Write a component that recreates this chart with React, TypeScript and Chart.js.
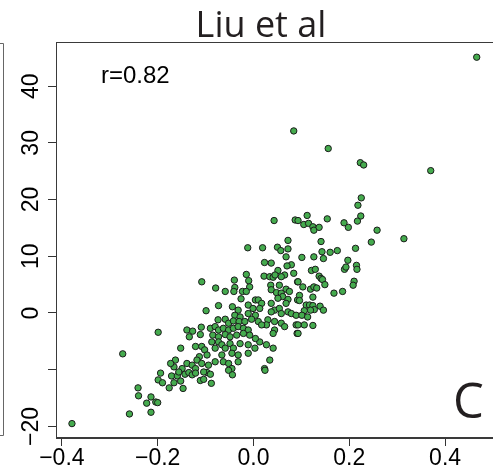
import React, { useEffect, useRef } from "react";
import { Chart, registerables } from "chart.js";

Chart.register(...registerables);

const titleText = "Liu et al";
const corrLabel = "r=0.82";
const panelLetter = "C";

const xTickValues = [-0.4, -0.2, 0, 0.2, 0.4];
const xTickLabels = ["\u22120.4", "\u22120.2", "0.0", "0.2", "0.4"];
const yTickValues = [-20, -10, 0, 10, 20, 30, 40];
const yTickLabels = ["\u221220", "", "0", "10", "20", "30", "40"];

const xRange = [-0.4123, 0.5476];
const yRange = [-22.04, 47.78];

const xVals = [
  0.466, 0.084, 0.156, 0.223, 0.230, 0.370,
  0.043, 0.087, 0.072, 0.050, 0.072, -0.012, 0.019, -0.015, -0.108, -0.079, -0.059, -0.040, -0.039, -0.041,
  -0.023, -0.010, -0.008, -0.015, 0.044, 0.041, 0.091, -0.199, 0.013, 0.027, 0.041, 0.023, 0.034, -0.273,
  -0.026, 0.004, -0.073, -0.099, -0.044, -0.032, -0.011, -0.001, -0.039, -0.028, -0.011, 0.004, -0.074, -0.059,
  -0.052, -0.042, -0.030, -0.018, -0.004, -0.139, -0.127, -0.109, -0.134, -0.111, -0.090, -0.080, -0.073, -0.063,
  -0.052, -0.042, -0.032, -0.021, -0.011, -0.085, -0.073, -0.059, -0.049, -0.035, -0.021, -0.008, 0.004, -0.152,
  -0.121, -0.108, -0.087, -0.073, -0.066, -0.049, -0.028, -0.011, -0.102, -0.080, -0.059, -0.042, 0.003, -0.097,
  -0.080, -0.066, -0.045, -0.032, -0.011, -0.113, -0.118, -0.163, -0.139, -0.128, -0.108, -0.094, -0.166, -0.149,
  -0.121, -0.063, -0.052, -0.045, -0.032, -0.173,
  0.057, 0.068, 0.023, 0.037, 0.079, 0.070, 0.051, 0.065, 0.084, 0.022, 0.034, 0.041, 0.045, 0.058, 0.092, 0.036,
  0.054, 0.037, 0.048, 0.068, 0.075, 0.058, 0.061, 0.051, 0.072, 0.068, 0.092, 0.010, 0.017, 0.013, 0.037, 0.044,
  0.037, 0.054, 0.058, 0.072, 0.079, 0.089, 0.030, 0.044, 0.027, 0.058, 0.065, 0.010, 0.017, 0.089,
  0.225, 0.218, 0.224, 0.217, 0.189, 0.198, 0.258, 0.246, 0.314, 0.213, 0.154, 0.112, 0.105, 0.115, 0.124, 0.126,
  0.137, 0.093, 0.141, 0.101, 0.126, 0.146, 0.143, 0.160, 0.175, 0.197, 0.190, 0.193, 0.215, 0.216, 0.121, 0.129,
  0.137, 0.141, 0.144, 0.149, 0.093, 0.103, 0.119, 0.126, 0.132, 0.210, 0.208, 0.168, 0.186, 0.124, 0.096, 0.096,
  0.110, 0.117, 0.124, 0.139, 0.146, 0.127, 0.119, 0.106, 0.101, 0.113, 0.106, 0.124, 0.093, 0.093,
  -0.379, -0.259, -0.214, -0.223, -0.204, -0.200, -0.214, -0.240, -0.241, -0.199, -0.190, -0.176, -0.166, -0.171,
  -0.159, -0.152, -0.147, -0.194, -0.156, -0.143, -0.135, -0.128, -0.121, -0.111, -0.104, -0.097, -0.090, -0.088,
  -0.104, -0.052, -0.044, 0.024,
];

const yVals = [
  45.1, 32.1, 29.0, 26.5, 26.1, 25.1,
  16.3, 16.4, 12.8, 11.6, 11.3, 11.5, 11.5, 6.8, 5.5, 4.4, 3.8, 5.8, 4.5, 3.8,
  3.8, 5.7, 4.6, 3.8, -3.0, -3.6, -3.6, -3.4, -5.1, -5.6, -6.2, -9.8, -8.3, -7.2,
  2.5, 2.3, 1.3, 0.4, 1.1, 0.5, 1.4, 0.8, -0.4, -0.7, -0.1, -0.4, -1.2, -1.1,
  -1.8, -1.4, -1.5, -1.5, -1.1, -3.0, -3.2, -2.5, -4.2, -3.8, -2.7, -2.4, -3.0, -2.7,
  -3.0, -2.7, -2.4, -2.7, -3.0, -3.9, -4.2, -3.8, -4.2, -3.9, -3.6, -3.9, -4.5, -6.2,
  -5.9, -5.9, -5.1, -5.1, -5.6, -5.4, -5.4, -5.6, -6.5, -6.2, -6.2, -6.2, -6.2, -7.4,
  -8.6, -7.4, -7.1, -7.4, -7.1, -7.7, -8.3, -8.3, -8.9, -9.2, -8.9, -9.2, -9.5, -9.8,
  -9.8, -8.6, -8.9, -9.8, -8.6, -8.9,
  11.0, 9.9, 8.9, 8.8, 8.5, 8.3, 7.5, 6.7, 7.0, 6.5, 6.4, 6.3, 6.7, 6.4, 5.5, 4.9,
  4.9, 4.1, 3.6, 4.2, 3.8, 3.5, 2.9, 2.6, 2.4, 1.7, 2.3, 2.3, 1.7, 0.8, 1.7, 0.5,
  0.2, 0.8, -0.1, 0.2, -0.1, -0.4, -1.2, -1.5, -2.1, -1.8, -2.4, -1.5, -2.1, -2.1,
  20.3, 19.0, 17.1, 16.2, 15.9, 15.1, 14.6, 12.5, 13.1, 11.4, 16.6, 17.2, 15.6, 15.8, 15.2, 14.6,
  15.1, 16.3, 12.6, 9.8, 9.9, 9.6, 10.8, 10.7, 11.0, 9.3, 7.7, 8.1, 8.4, 7.7, 7.5, 7.7,
  6.5, 6.1, 5.9, 5.0, 5.5, 4.6, 4.2, 4.6, 4.4, 5.6, 4.9, 3.5, 3.8, 2.8, 3.1, 2.2,
  1.4, 1.4, 1.3, 1.2, 0.5, 0.6, 0.5, 0.4, -0.4, -0.7, -2.1, -2.2, -2.1, -3.6,
  -19.5, -17.8, -17.5, -15.9, -15.7, -15.8, -14.8, -14.6, -13.2, -11.8, -12.3, -13.2, -12.3, -11.1,
  -11.1, -12.0, -13.3, -10.6, -10.4, -10.8, -10.5, -10.9, -10.6, -11.9, -11.7, -10.5, -10.8, -12.4,
  -10.4, -10.1, -10.9, -10.1,
];

const points = xVals.map((x, i) => ({ x, y: yVals[i] }));

const decorPlugin = {
  id: "decor",
  afterDraw(chart: any) {
    const ctx = chart.ctx;
    const { left, top, right, bottom } = chart.chartArea;
    const xs = chart.scales.x;
    const ys = chart.scales.y;
    ctx.save();
    // plot box
    ctx.strokeStyle = "#3a3a3a";
    ctx.lineWidth = 1;
    ctx.strokeRect(left + 0.5, top + 0.5, right - left - 1, bottom - top - 1);
    // previous panel fragment
    ctx.strokeStyle = "#666";
    ctx.beginPath();
    ctx.moveTo(0, 43.5);
    ctx.lineTo(3.5, 43.5);
    ctx.lineTo(3.5, 435.5);
    ctx.lineTo(0, 435.5);
    ctx.stroke();
    // tick labels
    ctx.fillStyle = "#000";
    ctx.font = '23px "Liberation Sans", Arial, sans-serif';
    ctx.textAlign = "center";
    ctx.textBaseline = "alphabetic";
    xTickValues.forEach((v, i) => {
      ctx.fillText(xTickLabels[i], xs.getPixelForValue(v), 465);
    });
    yTickValues.forEach((v, i) => {
      if (!yTickLabels[i]) return;
      ctx.save();
      ctx.translate(38, ys.getPixelForValue(v));
      ctx.rotate(-Math.PI / 2);
      ctx.fillText(yTickLabels[i], 0, 0);
      ctx.restore();
    });
    // r label
    ctx.textAlign = "left";
    ctx.font = '24px "Liberation Sans", Arial, sans-serif';
    ctx.fillText(corrLabel, 101, 83);
    // title
    ctx.fillStyle = "#231f20";
    ctx.textAlign = "center";
    ctx.font = '36px "Open Sans", sans-serif';
    ctx.fillText(titleText, 261, 36.5);
    // panel letter
    ctx.textAlign = "left";
    ctx.font = '49px "Open Sans", sans-serif';
    ctx.fillText(panelLetter, 453, 417.5);
    ctx.restore();
  },
};

export default function App() {
  const ref = useRef<HTMLCanvasElement>(null);
  useEffect(() => {
    if (!ref.current) return;
    const chart = new Chart(ref.current, {
      type: "scatter",
      data: {
        datasets: [
          {
            data: points,
            backgroundColor: "#45ab4e",
            borderColor: "#1b1b1b",
            borderWidth: 1,
            pointRadius: 3.2,
            pointHoverRadius: 3.2,
          },
        ],
      },
      options: {
        responsive: false,
        animation: false,
        events: [],
        layout: { padding: { top: 42, left: 0, right: 0, bottom: 0 } },
        plugins: { legend: { display: false }, tooltip: { enabled: false }, title: { display: false } },
        scales: {
          x: {
            type: "linear",
            min: xRange[0],
            max: xRange[1],
            afterBuildTicks: (s: any) => {
              s.ticks = xTickValues.map((v) => ({ value: v }));
            },
            afterFit: (s: any) => {
              s.height = 29;
            },
            ticks: { display: false },
            grid: { drawOnChartArea: false, drawTicks: true, tickLength: 8, color: "#333", lineWidth: 1 },
            border: { display: true, color: "#3a3a3a" },
          },
          y: {
            type: "linear",
            min: yRange[0],
            max: yRange[1],
            afterBuildTicks: (s: any) => {
              s.ticks = yTickValues.map((v) => ({ value: v }));
            },
            afterFit: (s: any) => {
              s.width = 56;
            },
            ticks: { display: false },
            grid: { drawOnChartArea: false, drawTicks: true, tickLength: 8, color: "#333", lineWidth: 1 },
            border: { display: true, color: "#3a3a3a" },
          },
        },
      },
      plugins: [decorPlugin],
    });
    return () => chart.destroy();
  }, []);
  return (
    <div style={{ position: "fixed", left: 0, top: 0, width: 493, height: 467, overflow: "hidden", background: "#fff" }}>
      <canvas ref={ref} width={520} height={467} style={{ display: "block", width: 520, height: 467 }} />
    </div>
  );
}
